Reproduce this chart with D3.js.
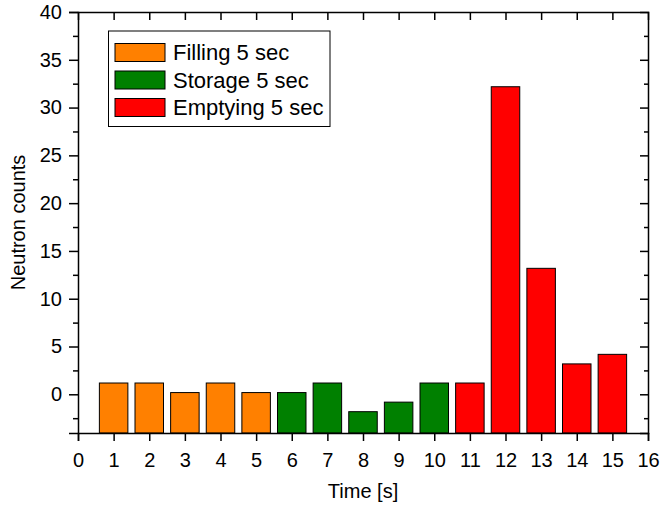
<!DOCTYPE html>
<html>
<head>
<meta charset="utf-8">
<script src="https://cdn.jsdelivr.net/npm/d3@7"></script>
<style>
  body { margin: 0; background: #fff; }
  text { font-family: "Liberation Sans", Arial, sans-serif; }
</style>
</head>
<body>
<div id="chart"></div>
<script>
// Neutron counts per 1 s time bin, coloured by phase
const times = [1, 2, 3, 4, 5, 6, 7, 8, 9, 10, 11, 12, 13, 14, 15];
const counts = [1.18, 1.18, 0.18, 1.18, 0.18, 0.18, 1.18, -1.82, -0.82, 1.18, 1.18, 32.18, 13.18, 3.18, 4.18];
const phases = ['Filling', 'Filling', 'Filling', 'Filling', 'Filling',
    'Storage', 'Storage', 'Storage', 'Storage', 'Storage',
    'Emptying', 'Emptying', 'Emptying', 'Emptying', 'Emptying'];
const legendLabels = ['Filling 5 sec', 'Storage 5 sec', 'Emptying 5 sec'];
const phaseNames = ['Filling', 'Storage', 'Emptying'];
const phaseColors = ['#ff8000', '#008000', '#ff0000'];
const xTicks = d3.range(0, 17);
const yTicks = [0, 5, 10, 15, 20, 25, 30, 35, 40];
const yMinor = [-2.5, 2.5, 7.5, 12.5, 17.5, 22.5, 27.5, 32.5, 37.5];

const width = 660, height = 505;
const margin = { top: 12, right: 12, bottom: 72, left: 78 };

const svg = d3.select('#chart').append('svg')
    .attr('width', width)
    .attr('height', height);

const x = d3.scaleLinear().domain([0, 16]).range([margin.left, width - margin.right]);
const y = d3.scaleLinear().domain([-4.05, 40]).range([height - margin.bottom, margin.top]);
const color = d3.scaleOrdinal().domain(phaseNames).range(phaseColors);

// Bars (drawn up from the bottom of the frame)
svg.append('g').selectAll('rect').data(times).join('rect')
    .attr('x', (d) => x(d - 0.4))
    .attr('width', x(0.8) - x(0))
    .attr('y', (d, i) => y(counts[i]))
    .attr('height', (d, i) => y.range()[0] - y(counts[i]))
    .attr('fill', (d, i) => color(phases[i]))
    .attr('stroke', '#000')
    .attr('stroke-width', 1);

const styleAxis = g => {
    g.selectAll('path').attr('stroke', '#000').attr('stroke-width', 1.5);
    g.selectAll('line').attr('stroke', '#000').attr('stroke-width', 1.5);
    g.selectAll('text').attr('font-size', 20).attr('fill', '#000')
        .attr('font-family', '"Liberation Sans", Arial, sans-serif');
};

// Bottom axis
svg.append('g')
    .attr('transform', `translate(0,${y.range()[0]})`)
    .call(d3.axisBottom(x).tickValues(xTicks).tickFormat(d3.format('d')).tickSizeOuter(0).tickSize(8).tickPadding(12))
    .call(styleAxis);

// Top axis (inward ticks, no labels)
svg.append('g')
    .attr('transform', `translate(0,${margin.top})`)
    .call(d3.axisBottom(x).tickValues(xTicks.slice(1, -1)).tickFormat('').tickSizeOuter(0).tickSize(8))
    .call(styleAxis);

// Left axis
svg.append('g')
    .attr('transform', `translate(${margin.left},0)`)
    .call(d3.axisLeft(y).tickValues(yTicks).tickSizeOuter(0).tickSize(9).tickPadding(7))
    .call(styleAxis);
svg.append('g')
    .attr('transform', `translate(${margin.left},0)`)
    .call(d3.axisLeft(y).tickValues(yMinor).tickFormat('').tickSizeOuter(0).tickSize(5))
    .call(styleAxis)
    .call(g => g.select('path').remove());

// Right axis (inward ticks)
svg.append('g')
    .attr('transform', `translate(${width - margin.right},0)`)
    .call(d3.axisLeft(y).tickValues(yTicks.slice(0, -1)).tickFormat('').tickSizeOuter(0).tickSize(8))
    .call(styleAxis);
svg.append('g')
    .attr('transform', `translate(${width - margin.right},0)`)
    .call(d3.axisLeft(y).tickValues(yMinor).tickFormat('').tickSizeOuter(0).tickSize(4))
    .call(styleAxis)
    .call(g => g.select('path').remove());

// Axis titles
svg.append('text')
    .attr('x', (margin.left + width - margin.right) / 2)
    .attr('y', 498)
    .attr('text-anchor', 'middle')
    .attr('font-size', 20)
    .text('Time [s]');

svg.append('text')
    .attr('transform', `translate(25,${(margin.top + y.range()[0]) / 2}) rotate(-90)`)
    .attr('text-anchor', 'middle')
    .attr('font-size', 20)
    .text('Neutron counts');

// Legend
const legend = svg.append('g').attr('transform', 'translate(108.5,31)');
legend.append('rect')
    .attr('width', 221.5).attr('height', 95.5)
    .attr('fill', '#fff').attr('stroke', '#000').attr('stroke-width', 1);
legendLabels.forEach((label, i) => {
    const row = legend.append('g').attr('transform', `translate(6.5,${12.5 + i * 27.5})`);
    row.append('rect')
        .attr('width', 50).attr('height', 18)
        .attr('fill', phaseColors[i]).attr('stroke', '#000').attr('stroke-width', 1);
    row.append('text')
        .attr('x', 58).attr('y', 9).attr('dy', '0.36em')
        .attr('font-size', 22)
        .text(label);
});
</script>
</body>
</html>
